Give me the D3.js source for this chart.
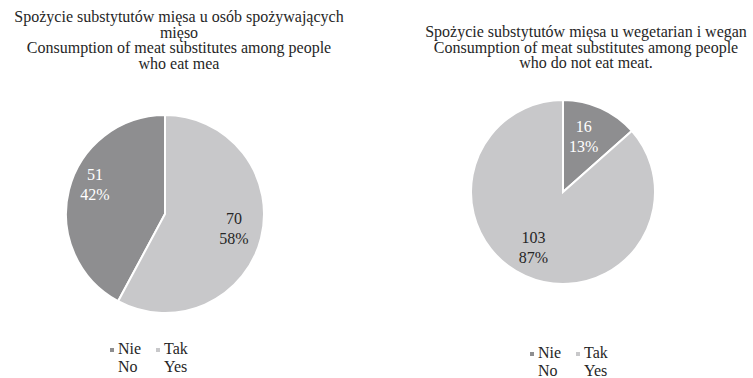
<!DOCTYPE html>
<html>
<head>
<meta charset="utf-8">
<script src="https://cdn.jsdelivr.net/npm/d3@7"></script>
<style>
  body { margin: 0; background: #fff; }
</style>
</head>
<body>
<svg id="chart" width="753" height="378"></svg>
<script>
'use strict';

// categories / series
const categories = ['Nie', 'Tak'];
const categoriesEn = ['No', 'Yes'];
const meatEaters = [51, 70];
const nonMeatEaters = [16, 103];
const meatEatersPct = ['42%', '58%'];
const nonMeatEatersPct = ['13%', '87%'];
const titleLeft = ['Spożycie substytutów mięsa u osób spożywających', 'mięso',
                   'Consumption of meat substitutes among people', 'who eat mea'];
const titleRight = ['Spożycie substytutów mięsa u wegetarian i wegan',
                    'Consumption of meat substitutes among people', 'who do not eat meat.'];

(function() {
  const FONT = "'Liberation Serif', 'Times New Roman', Times, serif";
  const svg = d3.select('#chart').attr('font-family', FONT);
  const color = d3.scaleOrdinal().domain(categories).range(['#8e8e90', '#c8c8ca']);
  const labelColor = d3.scaleOrdinal().domain(categories).range(['#ffffff', '#262626']);

  function drawPie(opts) {
    const g = svg.append('g').attr('transform', `translate(${opts.cx}, ${opts.cy})`);
    const total = d3.sum(opts.values);
    // first slice ends at 12 o'clock (left) or starts there (right)
    const start = opts.endAtTop ? -2 * Math.PI * opts.values[0] / total : 0;
    const pie = d3.pie().sort(null).startAngle(start).endAngle(start + 2 * Math.PI);
    const arcs = pie(opts.values);
    const arc = d3.arc().innerRadius(0).outerRadius(opts.r);

    g.selectAll('path')
      .data(arcs)
      .join('path')
        .attr('d', arc)
        .attr('fill', (d, i) => color(categories[i]))
        .attr('stroke', '#fff')
        .attr('stroke-width', 2);

    // label placement: slice mid angle, nudged like Excel's "best fit"
    function labelPos(d, i) {
      const a = (d.startAngle + d.endAngle) / 2 + opts.nudge[i] * Math.PI / 180;
      const rr = opts.r * opts.lr[i];
      return [rr * Math.sin(a), -rr * Math.cos(a)];
    }

    const lbl = g.selectAll('text.lbl')
      .data(arcs)
      .join('text')
        .attr('class', 'lbl')
        .attr('text-anchor', 'middle')
        .attr('font-size', 16)
        .attr('fill', (d, i) => labelColor(categories[i]))
        .attr('transform', (d, i) => `translate(${labelPos(d, i)})`);
    lbl.append('tspan').attr('x', 0).attr('dy', -4).text(d => d.data);
    lbl.append('tspan').attr('x', 0).attr('dy', 20).text((d, i) => opts.pct[i]);

    // title
    const t = svg.append('text')
      .attr('text-anchor', 'middle')
      .attr('font-size', 16)
      .attr('fill', '#262626');
    opts.title.forEach((line, i) => {
      t.append('tspan').attr('x', opts.tx).attr('y', opts.ty + i * 15.5).text(line);
    });

    // legend
    const lg = svg.append('g').attr('transform', `translate(${opts.lx}, ${opts.ly})`);
    const item = lg.selectAll('g')
      .data(categories)
      .join('g')
        .attr('transform', (d, i) => `translate(${i * 46}, 0)`);
    item.append('rect')
      .attr('x', 0).attr('y', -6).attr('width', 4).attr('height', 4)
      .attr('fill', d => color(d));
    item.append('text')
      .attr('x', 8).attr('y', 0)
      .attr('font-size', 16)
      .attr('fill', '#262626')
      .text(d => d);
    item.append('text')
      .attr('x', 8).attr('y', 18)
      .attr('font-size', 16)
      .attr('fill', '#262626')
      .text((d, i) => categoriesEn[i]);
  }

  drawPie({ values: meatEaters, pct: meatEatersPct, cx: 165, cy: 214, r: 99, endAtTop: true,
            lr: [0.77, 0.71], nudge: [9, -3],
            title: titleLeft, tx: 179, ty: 22, lx: 110, ly: 354 });
  drawPie({ values: nonMeatEaters, pct: nonMeatEatersPct, cx: 563, cy: 192, r: 92, endAtTop: false,
            lr: [0.65, 0.68], nudge: [-4, 4],
            title: titleRight, tx: 586, ty: 37, lx: 530, ly: 358 });
})();
</script>
</body>
</html>
